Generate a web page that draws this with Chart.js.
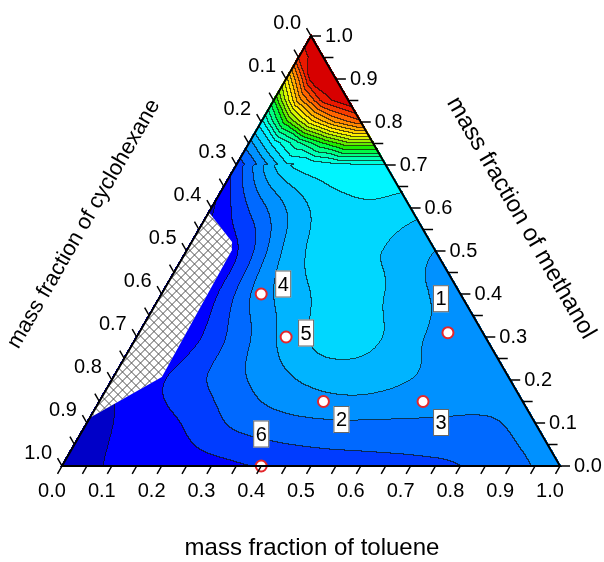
<!DOCTYPE html>
<html>
<head>
<meta charset="utf-8">
<script src="https://cdn.jsdelivr.net/npm/chart.js@4.4.1/dist/chart.umd.min.js"></script>
<style>
  html, body { margin: 0; padding: 0; background: #fff; }
  #wrap { width: 604px; height: 562px; }
</style>
</head>
<body>
<div id="wrap"><canvas id="ternary" width="604" height="562"></canvas></div>
<script>
// ==============================
// DATA
// ==============================
const sampleNames = ['1', '2', '3', '4', '5', '6'];
const sampleToluene = [0.62, 0.45, 0.65, 0.20, 0.30, 0.40];
const sampleMethanol = [0.31, 0.15, 0.15, 0.40, 0.30, 0.00];

const axisTicks = [0.0, 0.1, 0.2, 0.3, 0.4, 0.5, 0.6, 0.7, 0.8, 0.9, 1.0];

// contour field (level index), rows: methanol 0.0 .. 0.7 step 0.1, entries: toluene 0.0 .. step 0.1
const fieldCoarse = [
  [0.3, 1.1, 1.35, 1.65, 2.1, 2.4, 2.55, 2.7, 3.0, 3.75, 4.3],
  [0.5, 1.4, 2.1, 3.2, 3.7, 3.9, 3.9, 3.9, 3.9, 4.3],
  [0.8, 1.9, 3.1, 4.3, 5.2, 5.5, 5.0, 4.4, 4.4],
  [0.8, 1.5, 3.4, 5.3, 6.5, 5.95, 4.8, 4.5],
  [0.8, 1.7, 4.5, 6.0, 6.5, 5.3, 4.6],
  [0.8, 1.9, 5.2, 6.6, 5.95, 5.0],
  [0.8, 3.7, 6.05, 6.85, 6.4],
  [2.3, 6.8, 7.8, 7.9]
];

// finer field near the methanol corner, rows: methanol 0.70 .. 1.00 step 0.05, entries: toluene step 0.05
const fieldTop = [
  [2.3, 4.3, 6.8, 7.2, 7.8, 7.9, 7.9],
  [4.5, 7.3, 9.8, 12.0, 13.8, 13.8],
  [7.5, 12.6, 16.6, 19.2, 20.8],
  [11.8, 18.4, 22.5, 24.0],
  [16.5, 23.3, 24.5],
  [22.0, 24.5],
  [24.0]
];

// two-phase (hatched) region
const hatchToluene = [0.0, 0.081, 0.090, 0.097, 0.0];
const hatchMethanol = [0.59, 0.521, 0.502, 0.207, 0.112];

// ==============================
// STYLE
// ==============================
const bandColors = [
  [0, 0, 200], [0, 0, 255], [0, 60, 255], [0, 105, 255], [0, 145, 255],
  [0, 180, 255], [0, 215, 255], [0, 245, 255], [0, 255, 220], [0, 255, 180],
  [0, 255, 130], [0, 250, 70], [30, 235, 0], [100, 235, 0], [160, 240, 0],
  [215, 245, 0], [255, 240, 0], [255, 205, 0], [255, 170, 0], [255, 135, 0],
  [255, 100, 0], [245, 60, 0], [235, 25, 0], [215, 0, 0]
];
// label box offsets from their points, px
const labelOffsets = [[-7, -34], [18, 18], [18, 21], [22, -10], [20, -4], [0, -32]];
const FONT = '"Liberation Sans", Arial, sans-serif';

// ==============================
// FIELD HELPERS
// ==============================
function coarseNode(i, j) {
  const n = fieldCoarse.length;
  if (j < 0) return 2 * coarseNode(i, 0) - coarseNode(i, 1);
  if (j >= n) return 2 * coarseNode(i, n - 1) - coarseNode(i, n - 2);
  const row = fieldCoarse[j];
  if (i < 0) return 2 * row[0] - row[1];
  if (i >= row.length) return 2 * coarseNode(i - 1, j) - coarseNode(i - 2, j);
  return row[i];
}

function cr(p0, p1, p2, p3, f) {
  return p1 + 0.5 * f * (p2 - p0 + f * (2 * p0 - 5 * p1 + 4 * p2 - p3 + f * (3 * (p1 - p2) + p3 - p0)));
}

function coarseValue(t, m) {
  const u = t * 10, w = m * 10;
  const i0 = Math.floor(u), j0 = Math.floor(w);
  const fu = u - i0, fw = w - j0;
  const col = [];
  for (let dj = -1; dj <= 2; dj++) {
    const j = j0 + dj;
    col.push(cr(coarseNode(i0 - 1, j), coarseNode(i0, j), coarseNode(i0 + 1, j), coarseNode(i0 + 2, j), fu));
  }
  return cr(col[0], col[1], col[2], col[3], fw);
}

function topNode(i, j) {
  const row = fieldTop[Math.min(j, fieldTop.length - 1)];
  return row[Math.max(0, Math.min(i, row.length - 1))];
}

function topValue(t, m) {
  const u = t / 0.05, w = (m - 0.7) / 0.05;
  const i0 = Math.floor(u), j0 = Math.floor(w);
  if (j0 >= fieldTop.length - 1) return fieldTop[fieldTop.length - 1][0];
  const fu = u - i0, fw = w - j0;
  const A = topNode(i0, j0), B = topNode(i0 + 1, j0), C = topNode(i0, j0 + 1);
  if (fu + fw <= 1) return A + fu * (B - A) + fw * (C - A);
  const D = topNode(i0 + 1, j0 + 1);
  return D + (1 - fu) * (C - D) + (1 - fw) * (B - D);
}

function fieldValue(t, m) {
  return m >= 0.7 ? topValue(t, m) : coarseValue(t, m);
}

function bandOf(v) {
  return Math.max(0, Math.min(bandColors.length - 1, Math.floor(v)));
}

function toPixel(chart, t, m) {
  return [chart.scales.x.getPixelForValue(t + m / 2), chart.scales.y.getPixelForValue(m)];
}

// ==============================
// PLUGIN: contour field + frame
// ==============================
const ternaryPlugin = {
  id: 'ternary',
  beforeDraw(chart) {
    const ctx = chart.ctx;
    ctx.save();
    ctx.fillStyle = '#fff';
    ctx.fillRect(0, 0, chart.width, chart.height);
    ctx.restore();
  },
  beforeDatasetsDraw(chart) {
    const { ctx, chartArea: a, scales: { x: xs, y: ys } } = chart;
    const L = Math.floor(a.left) - 2, T = Math.floor(a.top) - 2;
    const W = Math.ceil(a.right) - L + 3, H = Math.ceil(a.bottom) - T + 3;
    const tol = 0.003;
    const bands = new Int16Array(W * H).fill(-1);
    for (let j = 0; j < H; j++) {
      const m = ys.getValueForPixel(T + j + 0.5);
      for (let i = 0; i < W; i++) {
        const t = xs.getValueForPixel(L + i + 0.5) - m / 2;
        if (m < -tol || t < -tol || t + m > 1 + tol) continue;
        const tc = Math.max(0, Math.min(1, t)), mc = Math.max(0, Math.min(1, m));
        bands[j * W + i] = bandOf(fieldValue(tc, Math.min(mc, 1 - tc)));
      }
    }
    const off = document.createElement('canvas');
    off.width = W; off.height = H;
    const octx = off.getContext('2d');
    const img = octx.createImageData(W, H);
    for (let j = 0; j < H; j++) {
      for (let i = 0; i < W; i++) {
        const k = j * W + i, b = bands[k];
        if (b < 0) continue;
        const c = bandColors[b];
        const r = i + 1 < W ? bands[k + 1] : -1;
        const d = j + 1 < H ? bands[k + W] : -1;
        const line = (r >= 0 && r !== b) || (d >= 0 && d !== b);
        const p = k * 4;
        if (line) {
          img.data[p] = c[0] * 0.3 + 10;
          img.data[p + 1] = c[1] * 0.3 + 10;
          img.data[p + 2] = c[2] * 0.3 + 10;
        } else {
          img.data[p] = c[0]; img.data[p + 1] = c[1]; img.data[p + 2] = c[2];
        }
        img.data[p + 3] = 255;
      }
    }
    octx.putImageData(img, 0, 0);
    ctx.drawImage(off, L, T);

    // hatched region
    ctx.save();
    ctx.beginPath();
    hatchToluene.forEach((t, i) => {
      const [px, py] = toPixel(chart, t, hatchMethanol[i]);
      if (i === 0) ctx.moveTo(px, py); else ctx.lineTo(px, py);
    });
    ctx.closePath();
    ctx.clip();
    ctx.fillStyle = '#fff';
    ctx.fillRect(0, 0, chart.width, chart.height);
    ctx.strokeStyle = '#505050';
    ctx.lineWidth = 1;
    ctx.beginPath();
    for (let s = -700; s < 700; s += 9) {
      ctx.moveTo(s + 0.5, 0); ctx.lineTo(s + 600.5, 600);
      ctx.moveTo(s + 0.5, 600); ctx.lineTo(s + 600.5, 0);
    }
    ctx.stroke();
    ctx.restore();
  },
  afterDatasetsDraw(chart) {
    const ctx = chart.ctx;
    const A = toPixel(chart, 0, 1), BL = toPixel(chart, 0, 0), BR = toPixel(chart, 1, 0);

    // ticks
    ctx.save();
    ctx.strokeStyle = '#000';
    ctx.lineWidth = 1.5;
    ctx.beginPath();
    for (let k = 0; k <= 20; k++) {
      const f = k / 20;
      let [x, y] = toPixel(chart, f, 0);
      ctx.moveTo(x, y); ctx.lineTo(x - 4.5, y + 7.8);
      [x, y] = toPixel(chart, 1 - f, f);
      ctx.moveTo(x, y); ctx.lineTo(x + 10, y);
      [x, y] = toPixel(chart, 0, 1 - f);
      ctx.moveTo(x, y); ctx.lineTo(x - 4.5, y - 7.8);
    }
    ctx.stroke();

    // frame
    ctx.lineWidth = 2;
    ctx.lineJoin = 'miter';
    ctx.beginPath();
    ctx.moveTo(A[0], A[1]); ctx.lineTo(BL[0], BL[1]); ctx.lineTo(BR[0], BR[1]); ctx.closePath();
    ctx.stroke();

    // tick labels
    ctx.fillStyle = '#000';
    ctx.font = '20px ' + FONT;
    ctx.textBaseline = 'middle';
    axisTicks.forEach(v => {
      const txt = v.toFixed(1);
      let [x, y] = toPixel(chart, v, 0);
      ctx.textAlign = 'center';
      ctx.fillText(txt, x - 10, y + 25);
      [x, y] = toPixel(chart, 1 - v, v);
      ctx.textAlign = 'left';
      ctx.fillText(txt, x + 14, y);
      [x, y] = toPixel(chart, 0, 1 - v);
      ctx.textAlign = 'right';
      ctx.fillText(txt, x - 10, y - 13);
    });

    // sample labels
    ctx.font = '20px ' + FONT;
    sampleNames.forEach((name, i) => {
      const [px, py] = toPixel(chart, sampleToluene[i], sampleMethanol[i]);
      const cx = px + labelOffsets[i][0], cy = py + labelOffsets[i][1];
      ctx.fillStyle = '#fff';
      ctx.fillRect(cx - 8, cy - 13.5, 16, 27);
      ctx.strokeStyle = '#666';
      ctx.lineWidth = 1;
      ctx.strokeRect(cx - 8 + 0.5, cy - 13.5 + 0.5, 15, 26);
      ctx.fillStyle = '#000';
      ctx.textAlign = 'center';
      ctx.fillText(name, cx, cy + 1);
    });

    // axis titles
    ctx.textAlign = 'center';
    ctx.font = '24px ' + FONT;
    ctx.fillText('mass fraction of toluene', 312, 548);
    ctx.save();
    ctx.translate(521, 218);
    ctx.rotate(Math.PI / 3);
    ctx.fillText('mass fraction of methanol', 0, 0);
    ctx.restore();
    ctx.font = '22px ' + FONT;
    ctx.save();
    ctx.translate(84, 224);
    ctx.rotate(-Math.PI / 3);
    ctx.fillText('mass fraction of cyclohexane', 0, 0);
    ctx.restore();
    ctx.restore();
  }
};

// ==============================
// CHART
// ==============================
const ctx = document.getElementById('ternary').getContext('2d');
new Chart(ctx, {
  type: 'scatter',
  data: {
    datasets: [{
      label: 'samples',
      data: sampleToluene.map((t, i) => ({ x: t + sampleMethanol[i] / 2, y: sampleMethanol[i] })),
      pointRadius: 5.5,
      pointBackgroundColor: '#fff',
      pointBorderColor: '#e3262b',
      pointBorderWidth: 2,
      clip: false
    }]
  },
  options: {
    responsive: false,
    devicePixelRatio: 1,
    animation: false,
    events: [],
    layout: { padding: { left: 62, right: 44, top: 36, bottom: 96 } },
    scales: {
      x: { type: 'linear', min: 0, max: 1, display: false },
      y: { type: 'linear', min: 0, max: 1, display: false }
    },
    plugins: { legend: { display: false }, tooltip: { enabled: false } }
  },
  plugins: [ternaryPlugin]
});
</script>
</body>
</html>
